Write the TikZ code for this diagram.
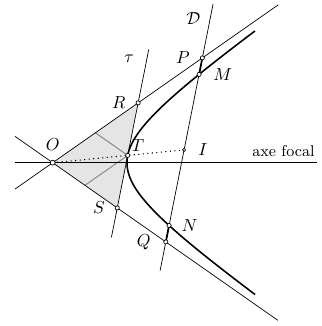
\documentclass[tikz,border=0pt]{standalone}
\usepackage{amsmath,amssymb}
\usepackage{tikz}
\usetikzlibrary{calc}
\usetikzlibrary{positioning}

\begin{document}
\begin{tikzpicture}[x=1.5cm,y=1.5cm,
  pt/.style={circle,draw,fill=white,inner sep=0pt,minimum size=2.4pt,line width=0.4pt},
  curve/.style={line width=0.9pt},
  parall/.style={gray,line width=0.5pt},
  lbl/.style={inner sep=1pt}]
\useasboundingbox (-0.709,-2.198) rectangle (3.624,2.190);
% asymptotes et axe
\coordinate (O) at (0,0);
\coordinate (A1) at (-0.507,-0.355);
\coordinate (A2) at (3.036,2.125);
\coordinate (B1) at (-0.507,0.355);
\coordinate (B2) at (3.03,-2.121);
\coordinate (X1) at (-0.507,0);
\coordinate (X2) at (3.553,0);
% points de l'hyperbole
\coordinate (M) at (1.9709,1.1889);
\coordinate (N) at (1.5669,-0.8444);
\coordinate (T) at (1.0098,0.0983);
\coordinate (I) at ($(M)!.5!(N)$);
% droite D et tangente
\coordinate (D1) at ($(N)!-0.2996!(M)$);
\coordinate (D2) at ($(N)!1.466!(M)$);
\coordinate (T1) at (0.7908,-1.004);
\coordinate (T2) at (1.2935,1.526);
\coordinate (P) at (intersection of D1--D2 and O--A2);
\coordinate (Q) at (intersection of D1--D2 and O--B2);
\coordinate (R) at (intersection of T1--T2 and O--A2);
\coordinate (S) at (intersection of T1--T2 and O--B2);

\fill[gray!20] (O) -- (R) -- (S) -- cycle;
\draw[parall] (T) -- ($(O)!.5!(R)$);
\draw[parall] (T) -- ($(O)!.5!(S)$);

\draw (A1) -- (A2);
\draw (B1) -- (B2);
\draw (X1) -- (X2);
\draw (D1) -- (D2);
\draw (T1) -- (T2);
\draw[curve] plot[domain=-1.66:1.66,samples=90,variable=\t]
  ({(exp(\t)+exp(-\t))/2},{0.35*(exp(\t)-exp(-\t))});
\draw[line width=1pt] (P) -- (M);
\draw[line width=1pt] (Q) -- (N);
\draw[dotted,line width=0.6pt] (O) -- (I);

\node[pt,minimum size=2.8pt] (pO) at (O) {};
\node[pt] (pT) at (T) {};
\node[pt] (pR) at (R) {};
\node[pt] (pS) at (S) {};
\node[pt] (pP) at (P) {};
\node[pt] (pM) at (M) {};
\node[pt] (pN) at (N) {};
\node[pt] (pQ) at (Q) {};
\node[pt,minimum size=1.8pt] (pI) at (I) {};

\node[lbl] (lO) [above=6pt of O] {$O$};
\node[lbl] (lT) [above right=1pt and 1pt of T] {$T$};
\node[lbl] (lR) [left=6pt of R] {$R$};
\node[lbl] (lS) [left=6pt of S] {$S$};
\node[lbl] (lP) [left=6pt of P] {$P$};
\node[lbl] (lM) [right=7pt of M] {$M$};
\node[lbl] (lN) [right=6pt of N] {$N$};
\node[lbl] (lQ) [left=7.5pt of Q] {$Q$};
\node[lbl] (lI) [right=7pt of I] {$I$};
\node[lbl] (lD) at (1.892,1.944) {$\mathcal{D}$};
\node[lbl] (ltau) at (1.031,1.405) {$\tau$};
\node[lbl,font=\small] (laxe) [above left=2pt and 0pt of X2] {axe focal};
\end{tikzpicture}
\end{document}
